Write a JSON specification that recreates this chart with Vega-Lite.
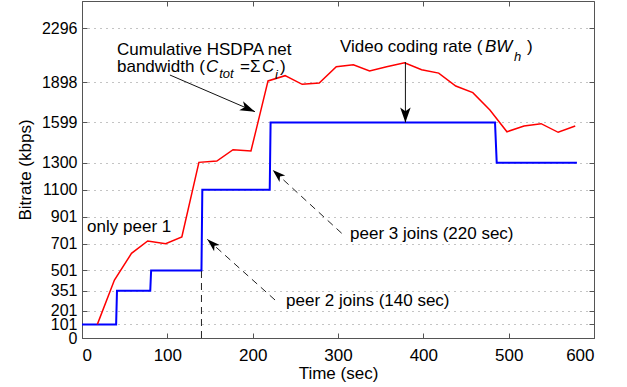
{
  "$schema": "https://vega.github.io/schema/vega-lite/v6.json",
  "width": 512,
  "height": 337,
  "autosize": {"type": "none"},
  "padding": {"left": 82, "top": 1, "right": 33, "bottom": 49},
  "background": "white",
  "config": {
    "font": "Liberation Sans",
    "view": {"stroke": "#555", "strokeWidth": 1},
    "axis": {
      "labelFont": "Liberation Sans",
      "labelFontSize": 17,
      "labelColor": "black",
      "labelOverlap": false,
      "titleFont": "Liberation Sans",
      "titleFontSize": 17,
      "titleFontWeight": "normal",
      "titleColor": "black",
      "domainColor": "#555",
      "tickColor": "#555",
      "tickSize": -5
    },
    "axisY": {"labelOverlap": false}
  },
  "datasets": {
    "series": [
      {"x": 0, "y": 101, "s": "video"},
      {"x": 40, "y": 101, "s": "video"},
      {"x": 41, "y": 351, "s": "video"},
      {"x": 80, "y": 351, "s": "video"},
      {"x": 81, "y": 501, "s": "video"},
      {"x": 140, "y": 501, "s": "video"},
      {"x": 141, "y": 1100, "s": "video"},
      {"x": 220, "y": 1100, "s": "video"},
      {"x": 221, "y": 1599, "s": "video"},
      {"x": 484, "y": 1599, "s": "video"},
      {"x": 486, "y": 1300, "s": "video"},
      {"x": 580, "y": 1300, "s": "video"},
      {"x": 18, "y": 101, "s": "net"},
      {"x": 38, "y": 430, "s": "net"},
      {"x": 58, "y": 628, "s": "net"},
      {"x": 77, "y": 720, "s": "net"},
      {"x": 98, "y": 700, "s": "net"},
      {"x": 117, "y": 749, "s": "net"},
      {"x": 137, "y": 1303, "s": "net"},
      {"x": 158, "y": 1313, "s": "net"},
      {"x": 177, "y": 1397, "s": "net"},
      {"x": 198, "y": 1387, "s": "net"},
      {"x": 218, "y": 1907, "s": "net"},
      {"x": 238, "y": 1946, "s": "net"},
      {"x": 258, "y": 1882, "s": "net"},
      {"x": 278, "y": 1892, "s": "net"},
      {"x": 298, "y": 2013, "s": "net"},
      {"x": 318, "y": 2027, "s": "net"},
      {"x": 337, "y": 1981, "s": "net"},
      {"x": 357, "y": 2013, "s": "net"},
      {"x": 378, "y": 2042, "s": "net"},
      {"x": 398, "y": 1990, "s": "net"},
      {"x": 418, "y": 1965, "s": "net"},
      {"x": 438, "y": 1869, "s": "net"},
      {"x": 458, "y": 1820, "s": "net"},
      {"x": 478, "y": 1691, "s": "net"},
      {"x": 498, "y": 1530, "s": "net"},
      {"x": 518, "y": 1573, "s": "net"},
      {"x": 538, "y": 1590, "s": "net"},
      {"x": 558, "y": 1526, "s": "net"},
      {"x": 578, "y": 1573, "s": "net"}
    ],
    "shafts": [
      {"x": 103, "y": 1951, "x2": 202.7, "y2": 1679, "kind": "solid"},
      {"x": 379, "y": 2047, "x2": 379, "y2": 1599, "kind": "solid"},
      {"x": 304.3, "y": 777, "x2": 223.5, "y2": 1246, "kind": "dashed"},
      {"x": 226.2, "y": 282, "x2": 146.8, "y2": 732, "kind": "dashed"},
      {"x": 140, "y": 0, "x2": 140, "y2": 501, "kind": "dashed"}
    ],
    "heads": [
      {"x": 202.7, "y": 1679, "kind": "cum"},
      {"x": 379, "y": 1599, "kind": "video"},
      {"x": 223.5, "y": 1246, "kind": "peer"},
      {"x": 146.8, "y": 732, "kind": "peer"}
    ],
    "labels": [
      {"text": "Cumulative HSDPA net", "x": 41, "y": 2136, "kind": "normal"},
      {"text": "bandwidth (", "x": 41, "y": 2010, "kind": "normal"},
      {"text": "C", "x": 145.3, "y": 2010, "kind": "italic"},
      {"text": "tot", "x": 160.7, "y": 1958, "kind": "sub"},
      {"text": "=Σ", "x": 185.2, "y": 2010, "kind": "normal"},
      {"text": "C", "x": 210.9, "y": 2010, "kind": "italic"},
      {"text": "i", "x": 226.2, "y": 1951, "kind": "sub"},
      {"text": ")", "x": 232, "y": 2010, "kind": "normal"},
      {"text": "Video coding rate (", "x": 302.3, "y": 2159, "kind": "normal"},
      {"text": "BW", "x": 472.3, "y": 2159, "kind": "italic"},
      {"text": "h", "x": 506.3, "y": 2085, "kind": "sub"},
      {"text": ")", "x": 521.5, "y": 2159, "kind": "normal"},
      {"text": "only peer 1", "x": 6, "y": 823, "kind": "normal"},
      {"text": "peer 2 joins (140 sec)", "x": 239.1, "y": 274, "kind": "normal"},
      {"text": "peer 3 joins (220 sec)", "x": 314.1, "y": 772, "kind": "normal"}
    ]
  },
  "layer": [
    {
      "encoding": {
        "x": {
          "field": "x", "type": "quantitative",
          "scale": {"domain": [0, 600], "nice": false},
          "axis": {"values": [0, 100, 200, 300, 400, 500, 600], "grid": false, "labelOverlap": false, "title": "Time (sec)", "labelPadding": 14, "titlePadding": 2}
        },
        "y": {
          "field": "y", "type": "quantitative",
          "scale": {"domain": [0, 2500], "nice": false},
          "axis": {"values": [0, 101, 201, 351, 501, 701, 901, 1100, 1300, 1599, 1898, 2296], "format": "d", "labelFontSize": 16, "labelOverlap": false, "labelBound": false, "grid": true, "gridDash": [1, 5], "gridColor": "#888", "gridWidth": 1, "title": "Bitrate (kbps)", "labelPadding": 10, "titlePadding": 7}
        }
      },
      "layer": [
        {
          "data": {"name": "series"},
          "mark": {"type": "line", "clip": true},
          "encoding": {
            "color": {"field": "s", "type": "nominal", "scale": {"domain": ["video", "net"], "range": ["#0000ff", "#ff0000"]}, "legend": null},
            "strokeWidth": {"field": "s", "type": "nominal", "scale": {"domain": ["video", "net"], "range": [2, 1.5]}, "legend": null},
            "order": {"field": "x", "type": "quantitative"}
          }
        },
        {
          "data": {"name": "shafts"},
          "transform": [{"filter": "datum.kind === 'solid'"}],
          "mark": {"type": "rule", "color": "#111", "strokeWidth": 1},
          "encoding": {"x2": {"field": "x2"}, "y2": {"field": "y2"}}
        },
        {
          "data": {"name": "shafts"},
          "transform": [{"filter": "datum.kind === 'dashed'"}],
          "mark": {"type": "rule", "color": "#222", "strokeWidth": 1, "strokeDash": [7, 5]},
          "encoding": {"x2": {"field": "x2"}, "y2": {"field": "y2"}}
        },
        {
          "data": {"name": "heads"},
          "transform": [{"filter": "datum.kind === 'cum'"}],
          "mark": {"type": "point", "shape": "M0,0L-0.65,2L0,1.5L0.65,2Z", "filled": true, "color": "black", "opacity": 1, "size": 225, "angle": 113}
        },
        {
          "data": {"name": "heads"},
          "transform": [{"filter": "datum.kind === 'video'"}],
          "mark": {"type": "point", "shape": "M0,0L-0.7,2L0,1.5L0.7,2Z", "filled": true, "color": "black", "opacity": 1, "size": 225, "angle": 180}
        },
        {
          "data": {"name": "heads"},
          "transform": [{"filter": "datum.kind === 'peer'"}],
          "mark": {"type": "point", "shape": "M0,0L-0.65,2L0,1.5L0.65,2Z", "filled": true, "color": "black", "opacity": 1, "size": 169, "angle": 312}
        },
        {
          "data": {"name": "labels"},
          "transform": [{"filter": "datum.kind === 'normal'"}],
          "mark": {"type": "text", "align": "left", "baseline": "middle", "font": "Liberation Sans", "fontSize": 17, "color": "black"},
          "encoding": {"text": {"field": "text"}}
        },
        {
          "data": {"name": "labels"},
          "transform": [{"filter": "datum.kind === 'italic'"}],
          "mark": {"type": "text", "align": "left", "baseline": "middle", "font": "Liberation Sans", "fontSize": 17, "fontStyle": "italic", "color": "black"},
          "encoding": {"text": {"field": "text"}}
        },
        {
          "data": {"name": "labels"},
          "transform": [{"filter": "datum.kind === 'sub'"}],
          "mark": {"type": "text", "align": "left", "baseline": "middle", "font": "Liberation Sans", "fontSize": 13, "fontStyle": "italic", "color": "black"},
          "encoding": {"text": {"field": "text"}}
        }
      ]
    },
    {
      "data": {"name": "series"},
      "mark": {"type": "point", "opacity": 0},
      "encoding": {
        "x": {"field": "x", "type": "quantitative", "axis": {"orient": "top", "values": [0, 100, 200, 300, 400, 500, 600], "labels": false, "title": null, "grid": false, "domain": false}},
        "y": {"field": "y", "type": "quantitative", "axis": {"orient": "right", "values": [0, 101, 201, 351, 501, 701, 901, 1100, 1300, 1599, 1898, 2296], "labels": false, "title": null, "grid": false, "domain": false}}
      }
    }
  ],
  "resolve": {"axis": {"x": "independent", "y": "independent"}}
}
